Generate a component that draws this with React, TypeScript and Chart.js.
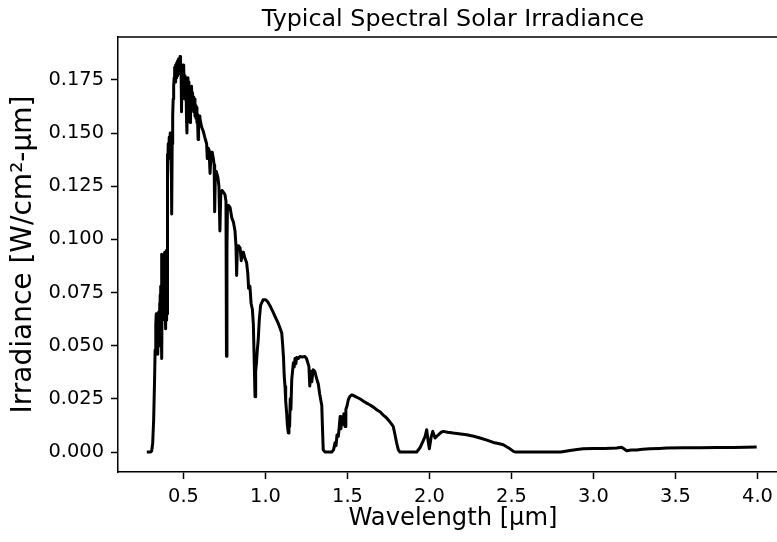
import React, { useEffect, useRef } from "react";
import { Chart, registerables } from "chart.js";

Chart.register(...registerables);

// ---- Data (wavelength in µm, irradiance in W/cm²-µm) ----
const uvVisWavelengths = [
  0.276, 0.3, 0.306, 0.312, 0.318, 0.323, 0.327, 0.331, 0.334, 0.336,
  0.338, 0.34, 0.342, 0.344, 0.346, 0.348, 0.35, 0.352, 0.354, 0.356,
  0.358, 0.36, 0.362, 0.364, 0.366, 0.368, 0.37, 0.372, 0.374, 0.376,
  0.378, 0.38, 0.382, 0.384, 0.386, 0.388, 0.39, 0.392, 0.394, 0.396,
  0.398, 0.4, 0.401, 0.404, 0.407, 0.41, 0.413, 0.416, 0.419, 0.422,
  0.425, 0.428, 0.431, 0.434, 0.437, 0.44, 0.443, 0.446, 0.449, 0.452,
  0.455, 0.458, 0.461, 0.464, 0.467, 0.47, 0.473, 0.476, 0.479, 0.482,
  0.485, 0.488, 0.491, 0.494, 0.497, 0.5, 0.503, 0.506, 0.509, 0.512,
  0.515, 0.518, 0.521, 0.524, 0.527, 0.53, 0.533, 0.536, 0.54, 0.543,
  0.546, 0.549, 0.552, 0.555, 0.558, 0.561, 0.564, 0.567, 0.57, 0.573,
  0.576, 0.579, 0.582, 0.585, 0.589, 0.592, 0.596, 0.6,
];
const uvVisIrradiance = [
  0, 0, 0.0005, 0.004, 0.015, 0.032, 0.048, 0.06, 0.065, 0.052,
  0.064, 0.058, 0.065, 0.046, 0.06, 0.056, 0.066, 0.05, 0.07, 0.058,
  0.074, 0.055, 0.078, 0.062, 0.093, 0.044, 0.076, 0.062, 0.084, 0.066,
  0.082, 0.07, 0.088, 0.068, 0.094, 0.074, 0.09, 0.058, 0.084, 0.062,
  0.095, 0.065, 0.14, 0.128, 0.145, 0.138, 0.148, 0.14, 0.15, 0.142,
  0.148, 0.112, 0.145, 0.158, 0.166, 0.172, 0.176, 0.181, 0.174, 0.182,
  0.176, 0.183, 0.177, 0.184, 0.178, 0.185, 0.179, 0.184, 0.186, 0.178,
  0.182, 0.16, 0.18, 0.174, 0.182, 0.172, 0.18, 0.166, 0.177, 0.17,
  0.176, 0.158, 0.15, 0.173, 0.176, 0.168, 0.174, 0.166, 0.155, 0.171,
  0.165, 0.172, 0.164, 0.169, 0.162, 0.167, 0.16, 0.166, 0.158, 0.163,
  0.157, 0.162, 0.155, 0.159, 0.147, 0.156, 0.158, 0.157,
];

const redNirWavelengths = [
  0.61, 0.62, 0.63, 0.641, 0.645, 0.65, 0.656, 0.662, 0.668, 0.675, 0.682, 0.687, 0.69, 0.694, 0.7,
  0.71, 0.716, 0.722, 0.727, 0.735, 0.745, 0.753, 0.759, 0.762, 0.765, 0.768, 0.775, 0.784, 0.795, 0.805,
  0.814, 0.82, 0.824, 0.828, 0.835, 0.845, 0.852, 0.858, 0.865, 0.875, 0.885, 0.892, 0.897, 0.905, 0.912,
  0.92, 0.926, 0.932, 0.936, 0.94, 0.945, 0.95, 0.955, 0.962, 0.97, 0.985,
];
const redNirIrradiance = [
  0.153, 0.151, 0.148, 0.145, 0.138, 0.143, 0.142, 0.131, 0.141, 0.141, 0.138, 0.135, 0.113, 0.13, 0.132,
  0.129, 0.125, 0.104, 0.121, 0.123, 0.122, 0.121, 0.118, 0.045, 0.095, 0.116, 0.116, 0.115, 0.11, 0.108,
  0.104, 0.097, 0.083, 0.095, 0.097, 0.096, 0.09, 0.094, 0.094, 0.091, 0.089, 0.084, 0.077, 0.078, 0.07,
  0.067, 0.06, 0.04, 0.026, 0.038, 0.042, 0.048, 0.052, 0.062, 0.069, 0.0716,
];

const nirWavelengths = [
  1.0, 1.01, 1.02, 1.03, 1.045, 1.06, 1.075, 1.09, 1.099, 1.105, 1.11, 1.114, 1.119, 1.123, 1.129,
  1.133, 1.139, 1.143, 1.147, 1.151, 1.155, 1.16, 1.165, 1.17, 1.175, 1.18, 1.185, 1.19, 1.2, 1.21,
  1.225, 1.24, 1.25, 1.258, 1.265, 1.27, 1.275, 1.282, 1.291, 1.3, 1.312, 1.322, 1.33, 1.337, 1.343,
  1.348, 1.352, 1.363,
];
const nirIrradiance = [
  0.0716, 0.071, 0.0698, 0.0684, 0.066, 0.0635, 0.061, 0.058, 0.056, 0.05, 0.044, 0.036, 0.0308, 0.024, 0.0184,
  0.013, 0.009, 0.015, 0.012, 0.025, 0.02, 0.034, 0.038, 0.042, 0.04, 0.044, 0.0415, 0.0445, 0.044, 0.0449,
  0.0447, 0.0449, 0.044, 0.042, 0.04, 0.031, 0.038, 0.033, 0.0387, 0.038, 0.0345, 0.032, 0.0275, 0.0245, 0.022,
  0.01, 0.001, 0,
];

const swir1Wavelengths = [
  1.404, 1.415, 1.424, 1.43, 1.436, 1.444, 1.45, 1.455, 1.46, 1.465, 1.47, 1.478, 1.485, 1.49, 1.498,
  1.505, 1.515, 1.526, 1.54, 1.555, 1.566, 1.58, 1.6, 1.617, 1.64, 1.66, 1.678, 1.7, 1.72, 1.739,
  1.755, 1.77, 1.779, 1.79, 1.8, 1.81, 1.82,
];
const swir1Irradiance = [
  0, 0.001, 0.0044, 0.003, 0.008, 0.0073, 0.012, 0.0167, 0.011, 0.0152, 0.013, 0.018, 0.012, 0.02, 0.022,
  0.0246, 0.0262, 0.0269, 0.0264, 0.0258, 0.0254, 0.0248, 0.0238, 0.023, 0.022, 0.021, 0.0199, 0.0188, 0.0172, 0.016,
  0.0145, 0.013, 0.012, 0.008, 0.0042, 0.001, 0,
];

const swir2Wavelengths = [
  1.922, 1.942, 1.96, 1.973, 1.983, 1.99, 1.999, 2.01, 2.02, 2.034, 2.054, 2.07, 2.084, 2.11, 2.145,
  2.19, 2.227, 2.27, 2.308, 2.35, 2.389, 2.42, 2.45, 2.47, 2.491, 2.51, 2.521,
];
const swir2Irradiance = [
  0, 0.002, 0.005, 0.0073, 0.0105, 0.006, 0.0015, 0.007, 0.0097, 0.0066, 0.0081, 0.0092, 0.0097, 0.0093, 0.0089,
  0.0085, 0.0081, 0.0074, 0.0066, 0.0056, 0.0045, 0.004, 0.0034, 0.0025, 0.0015, 0.0004, 0,
];

const mirWavelengths = [
  2.8, 2.857, 2.9, 2.936, 3.0, 3.07, 3.141, 3.172, 3.202, 3.23, 3.263, 3.3, 3.344, 3.4, 3.446,
  3.55, 3.649, 3.75, 3.852, 3.93, 3.995,
];
const mirIrradiance = [
  0, 0.0007, 0.0012, 0.0015, 0.0016, 0.0017, 0.0019, 0.0022, 0.0006, 0.0009, 0.001, 0.0013, 0.0015, 0.0017, 0.0019,
  0.002, 0.002, 0.0021, 0.0021, 0.0022, 0.0023,
];

const xTickValues = [0.5, 1.0, 1.5, 2.0, 2.5, 3.0, 3.5, 4.0];
const yTickValues = [0, 0.025, 0.05, 0.075, 0.1, 0.125, 0.15, 0.175];

const chartTitle = "Typical Spectral Solar Irradiance";
const xAxisLabel = "Wavelength [µm]";
const yAxisLabel = "Irradiance [W/cm²-µm]";

const wavelengths = [
  ...uvVisWavelengths,
  ...redNirWavelengths,
  ...nirWavelengths,
  ...swir1Wavelengths,
  ...swir2Wavelengths,
  ...mirWavelengths,
];
const irradiance = [
  ...uvVisIrradiance,
  ...redNirIrradiance,
  ...nirIrradiance,
  ...swir1Irradiance,
  ...swir2Irradiance,
  ...mirIrradiance,
];

const FONT = "'DejaVu Sans', sans-serif";
// The axes run past the right edge of the picture, as in the reference.
const CANVAS_W = 788;
const CANVAS_H = 542;

const topSpinePlugin = {
  id: "topSpine",
  afterDraw(chart: any) {
    const { ctx, chartArea } = chart;
    ctx.save();
    ctx.strokeStyle = "#000";
    ctx.lineWidth = 1.5;
    ctx.beginPath();
    ctx.moveTo(chartArea.left - 0.75, chartArea.top);
    ctx.lineTo(chartArea.right + 0.75, chartArea.top);
    ctx.lineTo(chartArea.right + 0.75, chartArea.bottom);
    ctx.stroke();
    ctx.restore();
  },
};

export default function App() {
  const canvasRef = useRef<HTMLCanvasElement | null>(null);

  useEffect(() => {
    if (!canvasRef.current) return;
    const points = wavelengths.map((w, i) => ({ x: w, y: irradiance[i] }));
    const chart = new Chart(canvasRef.current, {
      type: "line",
      data: {
        datasets: [
          {
            data: points,
            borderColor: "#000",
            borderWidth: 3,
            pointRadius: 0,
            tension: 0,
            borderJoinStyle: "round",
            fill: false,
          },
        ],
      },
      plugins: [topSpinePlugin],
      options: {
        responsive: false,
        animation: false,
        devicePixelRatio: 1,
        layout: { padding: 0 },
        plugins: {
          legend: { display: false },
          tooltip: { enabled: false },
          title: {
            display: true,
            fullSize: false,
            text: chartTitle,
            color: "#000",
            font: { family: FONT, size: 23.8, weight: "normal", lineHeight: 1.2 },
            padding: { top: 6, bottom: 2.44 },
          },
        },
        scales: {
          x: {
            type: "linear",
            position: "bottom",
            min: 0.1006,
            max: 4.186,
            afterBuildTicks: (scale: any) => {
              scale.ticks = xTickValues.map((v) => ({ value: v }));
            },
            afterFit: (scale: any) => {
              scale.height = 70;
            },
            ticks: {
              autoSkip: false,
              maxRotation: 0,
              color: "#000",
              padding: 6,
              font: { family: FONT, size: 19.4 },
              callback: (v: any) => Number(v).toFixed(1),
            },
            grid: {
              drawOnChartArea: false,
              drawTicks: true,
              tickLength: 7,
              tickWidth: 1.5,
              tickColor: "#000",
            },
            border: { display: true, color: "#000", width: 1.5 },
            title: {
              display: true,
              text: xAxisLabel,
              color: "#000",
              font: { family: FONT, size: 24.2 },
              padding: { top: 0, bottom: 9 },
            },
          },
          y: {
            type: "linear",
            position: "left",
            min: -0.0094,
            max: 0.1952,
            afterBuildTicks: (scale: any) => {
              scale.ticks = yTickValues.map((v) => ({ value: v }));
            },
            afterFit: (scale: any) => {
              scale.width = 118;
            },
            ticks: {
              autoSkip: false,
              color: "#000",
              padding: 7,
              font: { family: FONT, size: 19.4 },
              callback: (v: any) => Number(v).toFixed(3),
            },
            grid: {
              drawOnChartArea: false,
              drawTicks: true,
              tickLength: 7,
              tickWidth: 1.5,
              tickColor: "#000",
            },
            border: { display: true, color: "#000", width: 1.5 },
            title: {
              display: true,
              text: yAxisLabel,
              color: "#000",
              font: { family: FONT, size: 28 },
              padding: { top: 7, bottom: 0 },
            },
          },
        },
      },
    } as any);
    return () => chart.destroy();
  }, []);

  return (
    <div
      style={{
        position: "fixed",
        left: 0,
        top: 0,
        width: 777,
        height: 542,
        overflow: "hidden",
        background: "#fff",
      }}
    >
      <canvas
        ref={canvasRef}
        width={CANVAS_W}
        height={CANVAS_H}
        style={{ width: CANVAS_W, height: CANVAS_H, display: "block" }}
      />
    </div>
  );
}
